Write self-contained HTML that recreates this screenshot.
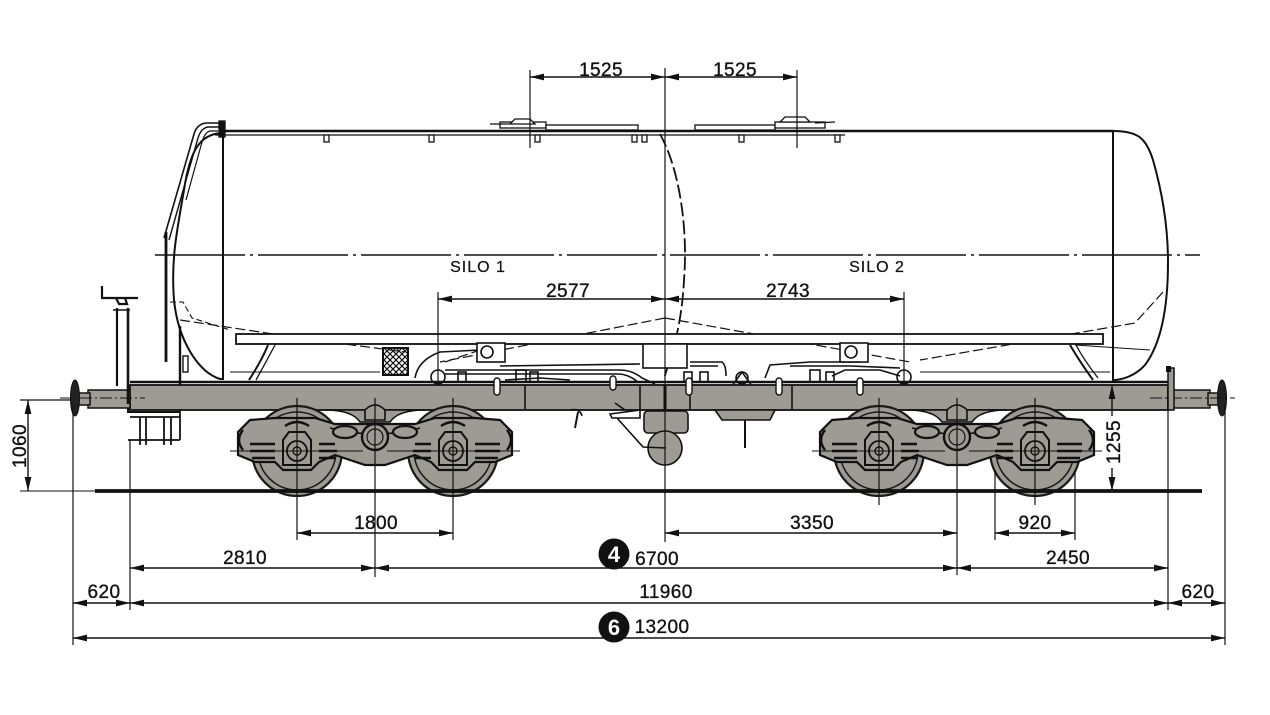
<!DOCTYPE html>
<html><head><meta charset="utf-8">
<style>
html,body{margin:0;padding:0;background:#fff;}
svg{display:block;}
text{font-family:"Liberation Sans",sans-serif;fill:#111;}
</style></head><body>
<svg width="1270" height="715" viewBox="0 0 1270 715" xmlns="http://www.w3.org/2000/svg">
<defs>
<marker id="ar" viewBox="0 0 14 8" refX="14" refY="4" markerWidth="14" markerHeight="8" orient="auto-start-reverse" markerUnits="userSpaceOnUse"><path d="M0,0.6 L14,4 L0,7.4z" fill="#111"/></marker>
<pattern id="xh" width="6" height="6" patternUnits="userSpaceOnUse"><path d="M0,0 L6,6 M6,0 L0,6" stroke="#111" stroke-width="1.2"/></pattern>
</defs>
<rect width="1270" height="715" fill="#fff"/>

<!-- ===== Tank ===== -->
<g fill="none" stroke="#111" stroke-width="2">
  <line x1="222" y1="131" x2="1113" y2="131" stroke-width="2.4"/>
  <line x1="215" y1="135" x2="845" y2="135" stroke-width="1.3"/>
  <line x1="223" y1="124" x2="223" y2="379"/>
  <line x1="1113" y1="131" x2="1113" y2="382"/>
  <!-- left head -->
  <path d="M222 133 C200 134 190 150 184 190 C176 235 171 262 174 300 C178 340 198 372 220 379 L224 379"/>
  <!-- right head -->
  <path d="M1113 131 C1138 131 1146 138 1153 160 C1163 195 1168 230 1168 262 C1168 310 1160 345 1145 365 C1135 376 1122 380 1113 380"/>
  <!-- left handrail / ladder -->
  <path d="M222 123 L206 123 Q197 124 194 134 L164 238" stroke-width="1.6"/>
  <path d="M222 127 L208 127 Q201 128 198 138 L169 240" stroke-width="1.4"/>
  <path d="M218 131 L210 131 Q205 132 202 142 L186 200" stroke-width="1.2"/>
  <line x1="166" y1="232" x2="166" y2="362" stroke-width="2.8"/>
  <line x1="180" y1="326" x2="180" y2="408" stroke-width="2.4"/>
  <rect x="183" y="356" width="5" height="16" stroke-width="1.4"/>
  <path d="M170 302 L183 302 L192 318 L230 330" stroke-width="1.1" stroke-dasharray="6 3"/>
</g>
<!-- walkway brackets -->
<g fill="#fff" stroke="#111" stroke-width="1.3">
  <rect x="324" y="135" width="5" height="7"/><rect x="429" y="135" width="5" height="7"/>
  <rect x="535" y="135" width="5" height="7"/><rect x="632" y="135" width="5" height="7"/>
  <rect x="642" y="135" width="5" height="7"/><rect x="739" y="135" width="5" height="7"/>
  <rect x="835" y="135" width="5" height="7"/>
  <!-- manholes -->
  <rect x="500" y="122" width="46" height="6"/>
  <rect x="546" y="125" width="92" height="5"/>
  <path d="M490 124 L510 124 L515 119 L530 119 L535 124 Z"/>
  <rect x="695" y="125" width="80" height="5"/>
  <rect x="775" y="122" width="50" height="6"/>
  <path d="M780 122 L785 117 L805 117 L810 122 Z M815 123 L835 122"/>
  <rect x="219" y="121" width="6" height="16" fill="#111"/>
</g>
<!-- center line & dashed head -->
<line x1="155" y1="255" x2="1200" y2="255" stroke="#111" stroke-width="1.6" stroke-dasharray="90 5 3 5"/>
<path d="M660 134 C680 170 688 230 684 280 C682 320 674 350 664 378" fill="none" stroke="#111" stroke-width="1.8" stroke-dasharray="14 4"/>
<!-- hopper dashed lines -->
<g fill="none" stroke="#111" stroke-width="1.2" stroke-dasharray="10 4">
  <path d="M180 320 L300 338 L405 352"/>
  <path d="M665 318 L440 362"/>
  <path d="M665 318 L910 362"/>
  <path d="M1163 292 L1135 323 L920 360"/>
  <path d="M445 362 L480 350"/>
</g>
<!-- cradle plate -->
<rect x="236" y="334" width="867" height="10" fill="#fff" stroke="#111" stroke-width="1.8"/>
<g fill="none" stroke="#111" stroke-width="2">
  <path d="M268 345 Q262 360 249 380"/>
  <path d="M275 345 Q266 362 256 380" stroke-width="1.3"/>
  <path d="M1070 345 Q1080 362 1093 380"/>
  <path d="M1076 345 Q1084 360 1098 378" stroke-width="1.3"/>
  <line x1="1075" y1="345" x2="1150" y2="350" stroke-width="1"/>
</g>
<!-- X box -->
<rect x="383" y="348" width="25" height="27" fill="url(#xh)" stroke="#111" stroke-width="2"/>

<!-- piping -->
<g fill="none" stroke="#111" stroke-width="1.6">
  <path d="M415 378 Q418 360 440 352 L480 350"/>
  <rect x="477" y="343" width="28" height="19" fill="#fff"/>
  <circle cx="487" cy="352" r="6"/>
  <rect x="643" y="344" width="44" height="24" fill="#fff"/>
  <path d="M445 370 L620 370 Q632 370 642 378 L655 384"/>
  <path d="M445 374 L618 374 Q628 374 638 382"/>
  <path d="M500 366 L640 364"/>
  <path d="M690 362 L722 362 Q726 365 726 376"/>
  <path d="M690 366 L718 366"/>
  <path d="M765 378 L770 365 L810 362 L860 362"/>
  <path d="M790 366 L850 366 L900 368"/>
  <rect x="840" y="343" width="28" height="19" fill="#fff"/>
  <circle cx="851" cy="352" r="6"/>
  <path d="M832 376 L845 370 L880 370 L900 376"/>
  <circle cx="438" cy="377" r="7"/>
  <circle cx="904" cy="377" r="7"/>
  <circle cx="742" cy="378" r="6"/>
  <path d="M732 386 L742 372 L752 386"/>
  <path d="M505 380 L540 378 L570 380"/>
  <rect x="458" y="372" width="8" height="10"/>
  <rect x="516" y="370" width="10" height="12"/>
  <rect x="530" y="372" width="8" height="10"/>
  <rect x="810" y="370" width="10" height="12"/>
  <rect x="826" y="372" width="8" height="10"/>
  <rect x="684" y="372" width="8" height="10"/>
  <rect x="700" y="372" width="8" height="10"/>
  <line x1="230" y1="372" x2="380" y2="372" stroke-width="1"/>
  <line x1="920" y1="372" x2="1110" y2="372" stroke-width="1"/>
</g>

<!-- ===== Underframe ===== -->
<line x1="130" y1="382" x2="1168" y2="382" stroke="#111" stroke-width="2.4"/>
<rect x="130" y="385" width="1038" height="25" fill="#9e9b95" stroke="#111" stroke-width="1.8"/>
<!-- bolster dips -->
<path d="M325 410 Q352 410 360 422 L390 422 Q398 410 425 410 Z" fill="#9e9b95" stroke="#111" stroke-width="1.6"/>
<path d="M907 410 Q934 410 942 422 L972 422 Q980 410 1007 410 Z" fill="#9e9b95" stroke="#111" stroke-width="1.6"/>
<path d="M128 385 L128 412 L180 412" fill="none" stroke="#111" stroke-width="2"/>
<g stroke="#111" stroke-width="1.6">
  <line x1="525" y1="386" x2="525" y2="409"/>
  <line x1="665" y1="386" x2="665" y2="409" stroke-width="3"/>
  <line x1="792" y1="386" x2="792" y2="409"/>
  <line x1="640" y1="386" x2="640" y2="409"/>
  <line x1="690" y1="386" x2="690" y2="409"/>
</g>
<!-- hangers (white U) -->
<g fill="#fff" stroke="#111" stroke-width="1.4">
  <rect x="494" y="378" width="6" height="17" rx="3"/>
  <rect x="610" y="376" width="6" height="14" rx="3"/>
  <rect x="686" y="378" width="6" height="17" rx="3"/>
  <rect x="776" y="378" width="6" height="17" rx="3"/>
  <rect x="857" y="378" width="6" height="17" rx="3"/>
</g>
<!-- left buffer -->
<rect x="88" y="390" width="42" height="18" fill="#9e9b95" stroke="#111" stroke-width="1.5"/>
<rect x="78" y="393" width="12" height="12" fill="#9e9b95" stroke="#111" stroke-width="1.5"/>
<ellipse cx="75" cy="398" rx="4.5" ry="18" fill="#222" stroke="#111"/>
<line x1="60" y1="398" x2="145" y2="398" stroke="#111" stroke-width="1" stroke-dasharray="12 3 2 3"/>
<!-- right buffer -->
<rect x="1168" y="390" width="42" height="18" fill="#9e9b95" stroke="#111" stroke-width="1.5"/>
<rect x="1208" y="393" width="12" height="12" fill="#9e9b95" stroke="#111" stroke-width="1.5"/>
<ellipse cx="1222" cy="398" rx="4.5" ry="18" fill="#222" stroke="#111"/>
<line x1="1150" y1="398" x2="1235" y2="398" stroke="#111" stroke-width="1" stroke-dasharray="12 3 2 3"/>
<rect x="1168" y="368" width="6" height="42" fill="#9e9b95" stroke="#111" stroke-width="1.5"/>
<rect x="1166" y="366" width="5" height="6" fill="#111"/>
<!-- hand brake -->
<g fill="none" stroke="#111" stroke-width="2.2">
  <path d="M102 286 L102 298 L138 298"/>
  <path d="M116 298 L119 304 L127 304 L125 298"/>
  <line x1="117" y1="308" x2="117" y2="386"/>
  <line x1="128" y1="308" x2="128" y2="404" stroke-width="2.6"/>
  <line x1="113" y1="310" x2="130" y2="310" stroke-width="1.6"/>
</g>
<!-- steps -->
<g fill="none" stroke="#111" stroke-width="1.8">
  <line x1="130" y1="417" x2="180" y2="417"/>
  <line x1="128" y1="440" x2="180" y2="440"/>
  <line x1="140" y1="417" x2="140" y2="445"/>
  <line x1="146" y1="417" x2="146" y2="445"/>
  <line x1="164" y1="417" x2="164" y2="445"/>
  <line x1="171" y1="417" x2="171" y2="445"/>
  <line x1="180" y1="410" x2="180" y2="440"/>
</g>
<!-- center brake cylinder -->
<g stroke="#111" stroke-width="1.6">
  <rect x="644" y="411" width="44" height="22" rx="4" fill="#9e9b95"/>
  <circle cx="665" cy="448" r="17" fill="#9e9b95"/>
  <path d="M615 403 L625 410 M610 414 L640 410 L640 418 L612 418 Z" fill="#fff"/>
  <path d="M617 418 L643 447 L666 448" fill="none"/>
  <path d="M578 412 L575 428" fill="none" stroke-width="2"/>
  <path d="M570 410 Q580 408 582 416" fill="none"/>
  <path d="M715 410 L775 410 L770 420 L722 420 Z" fill="#9e9b95"/>
  <line x1="745" y1="420" x2="745" y2="448" stroke-width="2"/>
</g>

<!-- ===== Bogies ===== -->
<g id="bogie" transform="translate(375,0)">
  <circle cx="-78" cy="451" r="45" fill="#9e9b95" stroke="#1a1a1a" stroke-width="2.2"/>
  <circle cx="-78" cy="451" r="39" fill="none" stroke="#1a1a1a" stroke-width="1.6"/>
  <circle cx="78" cy="451" r="45" fill="#9e9b95" stroke="#1a1a1a" stroke-width="2.2"/>
  <circle cx="78" cy="451" r="39" fill="none" stroke="#1a1a1a" stroke-width="1.6"/>
  <path d="M-137 432 L-125 420 L-100 418 L-60 418 L-40 424 L40 424 L60 418 L100 418 L125 420 L137 432 L137 455 L120 462 L100 462 L92 470 L64 470 L56 462 L40 455 L10 465 L-10 465 L-40 455 L-56 462 L-64 470 L-92 470 L-100 462 L-120 462 L-137 455 Z" fill="#9e9b95" stroke="#111" stroke-width="2.2"/>
  <path d="M-45 428 Q0 440 45 428" fill="none" stroke="#111" stroke-width="1.5"/>
  <circle cx="0" cy="437" r="13" fill="#9e9b95" stroke="#111" stroke-width="2.4"/>
  <circle cx="0" cy="437" r="8" fill="none" stroke="#111" stroke-width="1.2"/>
  <ellipse cx="-30" cy="432" rx="12" ry="6" fill="#9e9b95" stroke="#111" stroke-width="2.2"/>
  <ellipse cx="30" cy="432" rx="12" ry="6" fill="#9e9b95" stroke="#111" stroke-width="2.2"/>
  <path d="M-10 410 Q0 400 10 410 L10 420 L-10 420 Z" fill="#9e9b95" stroke="#111" stroke-width="1.6"/>
  <g fill="#9e9b95" stroke="#111" stroke-width="2">
    <path d="M-92 465 L-92 440 L-86 432 L-70 432 L-64 440 L-64 465 Z"/>
    <path d="M64 465 L64 440 L70 432 L86 432 L92 440 L92 465 Z"/>
  </g>
  <circle cx="-78" cy="451" r="10" fill="#9e9b95" stroke="#111" stroke-width="1.8"/>
  <circle cx="-78" cy="451" r="4" fill="none" stroke="#111" stroke-width="1.4"/>
  <circle cx="78" cy="451" r="10" fill="#9e9b95" stroke="#111" stroke-width="1.8"/>
  <circle cx="78" cy="451" r="4" fill="none" stroke="#111" stroke-width="1.4"/>
  <g stroke="#111" stroke-width="2.4" fill="none">
    <path d="M-125 444 L-100 444 M-125 451 L-100 451 M-123 458 L-100 458"/>
    <path d="M-56 444 L-40 444 M-56 451 L-38 451 M-56 458 L-40 458"/>
    <path d="M100 444 L125 444 M100 451 L125 451 M100 458 L123 458"/>
    <path d="M56 444 L40 444 M56 451 L38 451 M56 458 L40 458"/>
    <path d="M-132 430 Q-140 440 -132 450 M132 430 Q140 440 132 450"/>
    <path d="M-90 426 Q-78 418 -66 426 M66 426 Q78 418 90 426"/>
  </g>
  <g stroke="#111" stroke-width="1.1">
    <line x1="-145" y1="451" x2="-12" y2="451"/>
    <line x1="12" y1="451" x2="145" y2="451"/>
  </g>
</g>
<use href="#bogie" transform="translate(582,0)"/>

<!-- rail -->
<line x1="95" y1="491" x2="1202" y2="491" stroke="#111" stroke-width="3.8"/>
<line x1="20" y1="491" x2="95" y2="491" stroke="#111" stroke-width="1.1"/>

<!-- ===== extension lines ===== -->
<g stroke="#111" stroke-width="1.2">
  <line x1="665" y1="68" x2="665" y2="542"/>
  <line x1="530" y1="70" x2="530" y2="148"/>
  <line x1="797" y1="70" x2="797" y2="148"/>
  <line x1="438" y1="292" x2="438" y2="385"/>
  <line x1="904" y1="292" x2="904" y2="385"/>
  <line x1="73" y1="405" x2="73" y2="645"/>
  <line x1="1225" y1="405" x2="1225" y2="645"/>
  <line x1="130" y1="440" x2="130" y2="610"/>
  <line x1="1168" y1="410" x2="1168" y2="610"/>
  <line x1="297" y1="398" x2="297" y2="540"/>
  <line x1="453" y1="398" x2="453" y2="540"/>
  <line x1="375" y1="398" x2="375" y2="577"/>
  <line x1="879" y1="398" x2="879" y2="505"/>
  <line x1="1035" y1="398" x2="1035" y2="505"/>
  <line x1="957" y1="398" x2="957" y2="575"/>
  <line x1="995" y1="470" x2="995" y2="540"/>
  <line x1="1075" y1="470" x2="1075" y2="540"/>
  <line x1="20" y1="400" x2="72" y2="400"/>
</g>

<!-- ===== dimension lines ===== -->
<g stroke="#111" stroke-width="1.4" marker-start="url(#ar)" marker-end="url(#ar)">
  <line x1="530" y1="77" x2="665" y2="77"/>
  <line x1="665" y1="77" x2="797" y2="77"/>
  <line x1="438" y1="299" x2="665" y2="299"/>
  <line x1="665" y1="299" x2="904" y2="299"/>
  <line x1="28" y1="400" x2="28" y2="491"/>
  <line x1="297" y1="533" x2="453" y2="533"/>
  <line x1="665" y1="533" x2="957" y2="533"/>
  <line x1="995" y1="533" x2="1075" y2="533"/>
  <line x1="130" y1="568" x2="375" y2="568"/>
  <line x1="375" y1="568" x2="957" y2="568"/>
  <line x1="957" y1="568" x2="1168" y2="568"/>
  <line x1="73" y1="603" x2="130" y2="603"/>
  <line x1="130" y1="603" x2="1168" y2="603"/>
  <line x1="1168" y1="603" x2="1225" y2="603"/>
  <line x1="73" y1="638" x2="1225" y2="638"/>
</g>
<g stroke="#111" stroke-width="1.4">
  <line x1="1112" y1="385" x2="1112" y2="416" marker-start="url(#ar)"/>
  <line x1="1112" y1="468" x2="1112" y2="491" marker-end="url(#ar)"/>
</g>

<!-- ===== labels ===== -->
<g font-size="19" text-anchor="middle" letter-spacing="0.4" stroke="#111" stroke-width="0.35">
  <text x="601" y="76">1525</text>
  <text x="735" y="76">1525</text>
  <text x="568" y="297">2577</text>
  <text x="788" y="297">2743</text>
  <text x="376" y="529">1800</text>
  <text x="812" y="529">3350</text>
  <text x="1035" y="529">920</text>
  <text x="245" y="564">2810</text>
  <text x="657" y="565">6700</text>
  <text x="1068" y="564">2450</text>
  <text x="104" y="598">620</text>
  <text x="666" y="598">11960</text>
  <text x="1198" y="598">620</text>
  <text x="662" y="633">13200</text>
  <text transform="translate(26,446) rotate(-90)">1060</text>
  <text transform="translate(1120,442) rotate(-90)">1255</text>
</g>
<g font-size="16" text-anchor="middle" letter-spacing="1" stroke="#111" stroke-width="0.25">
  <text x="478" y="272">SILO 1</text>
  <text x="877" y="272">SILO 2</text>
</g>
<circle cx="614" cy="554" r="15.5" fill="#111"/>
<text x="614" y="562" font-size="22" font-weight="bold" text-anchor="middle" style="fill:#fff">4</text>
<circle cx="614" cy="627" r="15.5" fill="#111"/>
<text x="614" y="635" font-size="22" font-weight="bold" text-anchor="middle" style="fill:#fff">6</text>
</svg>
</body></html>
